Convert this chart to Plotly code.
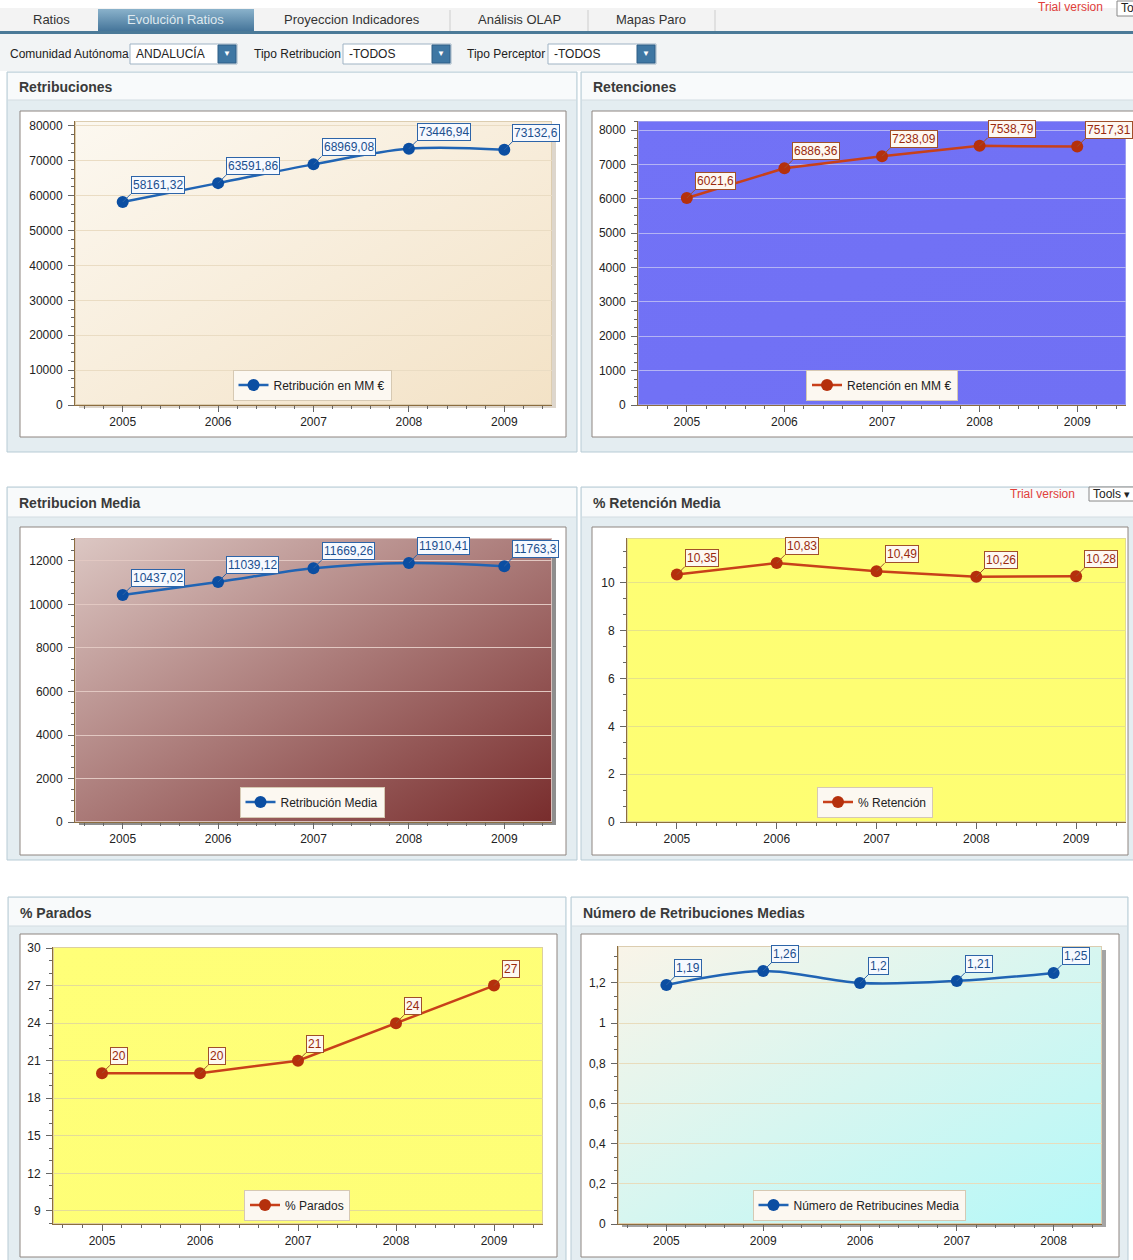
import base64
import plotly.graph_objects as go

W, H = 1133, 1260
F = "Liberation Sans, Arial, sans-serif"

# ---------------- data ----------------
years = ["2005", "2006", "2007", "2008", "2009"]
years_num = ["2005", "2009", "2006", "2007", "2008"]

retribuciones = [58161.32, 63591.86, 68969.08, 73446.94, 73132.6]
retenciones = [6021.6, 6886.36, 7238.09, 7538.79, 7517.31]
retribucion_media = [10437.02, 11039.12, 11669.26, 11910.41, 11763.3]
pct_retencion = [10.35, 10.83, 10.49, 10.26, 10.28]
pct_parados = [20, 20, 21, 24, 27]
num_retribuciones = [1.19, 1.26, 1.2, 1.21, 1.25]

tabs = ["Ratios", "Evolución Ratios", "Proyeccion Indicadores", "Análisis OLAP", "Mapas Paro"]
filter_labels = ["Comunidad Autónoma", "Tipo Retribucion", "Tipo Perceptor"]
filter_values = ["ANDALUCÍA", "-TODOS", "-TODOS"]


def px(x):
    return x / W


def py(y):
    return 1 - y / H


def svg_uri(w, h, c0, c1, border):
    # diagonal gradient fill with a 1px frame, drawn at the plot area's own pixel size
    svg = (f'<svg xmlns="http://www.w3.org/2000/svg" width="{w}" height="{h}" viewBox="0 0 {w} {h}" '
           'preserveAspectRatio="none"><defs><linearGradient id="g" x1="0" y1="0" x2="1" y2="1">'
           f'<stop offset="0" stop-color="{c0}"/><stop offset="1" stop-color="{c1}"/></linearGradient></defs>'
           f'<rect width="{w}" height="{h}" fill="url(#g)"/>'
           f'<rect x="0.5" y="0.5" width="{w - 1}" height="{h - 1}" fill="none" stroke="{border}" stroke-width="1"/>'
           '</svg>')
    return "data:image/svg+xml;base64," + base64.b64encode(svg.encode()).decode()


def vgrad_uri(c0, c1):
    svg = ('<svg xmlns="http://www.w3.org/2000/svg" width="100" height="100" viewBox="0 0 100 100" '
           'preserveAspectRatio="none"><defs><linearGradient id="g" x1="0" y1="0" x2="0" y2="1">'
           f'<stop offset="0" stop-color="{c0}"/><stop offset="1" stop-color="{c1}"/></linearGradient></defs>'
           '<rect width="100" height="100" fill="url(#g)"/></svg>')
    return "data:image/svg+xml;base64," + base64.b64encode(svg.encode()).decode()


def fmt(v):
    return str(v).replace(".", ",")


BLUE = dict(line="#2064b4", marker="#0b4ea2", text="#1b4f8f", border="#2d64a8", bg="#f6f9fe")
RED = dict(line="#c8401a", marker="#b5300c", text="#9a2a0e", border="#a0502a", bg="#fdf8f1")

charts = [
    dict(title="Retribuciones", name="Retribución en MM €", cats=years, vals=retribuciones,
         style=BLUE, shape="spline", plot=(75, 121, 552, 405), yr=[0, 81400], dtick=10000,
         minor=2500, tf="d", bg=("#fcf8f0", "#f3e2c6"), frame="#dccdb0", grid="#eadcc3",
         legend=(312, 385), panel=(7, 72, 577, 452), head=100, inner=(20, 111, 566, 437),
         shadow="#ddd6cc"),
    dict(title="Retenciones", name="Retención en MM €", cats=years, vals=retenciones,
         style=RED, shape="linear", plot=(638, 121, 1126, 405), yr=[0, 8262], dtick=1000,
         minor=250, tf="d", bg=("#7272f6", "#7070f4"), frame="#9c9cf0", grid="#b4b4f4",
         legend=(882, 385), panel=(581, 72, 1140, 452), head=100, inner=(592, 111, 1140, 437),
         shadow=None),
    dict(title="Retribucion Media", name="Retribución Media", cats=years, vals=retribucion_media,
         style=BLUE, shape="spline", plot=(75, 538, 552, 822), yr=[0, 13057], dtick=2000,
         minor=500, tf="d", bg=("#dcc7c3", "#782c2c"), frame="#d8c0bc", grid="#e2c8c2",
         legend=(312, 802), panel=(7, 487, 577, 860), head=517, inner=(20, 527, 566, 855),
         shadow="#8e8e8e"),
    dict(title="% Retención Media", name="% Retención", cats=years, vals=pct_retencion,
         style=RED, shape="linear", plot=(627, 538, 1126, 822), yr=[0, 11.88], dtick=2,
         minor=2 / 3, tf="d", bg=("#fefe74", "#fefe72"), frame="#e2dc90", grid="#e6e28a",
         legend=(875, 802), panel=(581, 487, 1140, 860), head=517, inner=(592, 527, 1128, 855),
         shadow=None),
    dict(title="% Parados", name="% Parados", cats=years, vals=pct_parados,
         style=RED, shape="linear", plot=(53, 947, 543, 1224), yr=[7.96, 30.08], dtick=3,
         minor=1, tf="d", bg=("#ffff78", "#fefe76"), frame="#dccfa0", grid="#e4dc98",
         legend=(297, 1205), panel=(8, 897, 566, 1262), head=926, inner=(20, 934, 557, 1257),
         shadow=None),
    dict(title="Número de Retribuciones Medias", name="Número de Retribucines Media", cats=years_num,
         vals=num_retribuciones, style=BLUE, shape="spline", plot=(618, 946, 1102, 1224),
         yr=[0, 1.384], dtick=0.2, minor=0.2 / 3, tf=".1~f", bg=("#f9f4e8", "#b4f8f8"),
         frame="#dccdb0", grid="#e8dcbc", legend=(859, 1205), panel=(571, 897, 1128, 1262),
         head=926, inner=(581, 934, 1119, 1257), shadow="#a4a4a4"),
]

fig = go.Figure()
shapes, annotations, images = [], [], []
layout = {}


def rect(x0, y0, x1, y1, fill, line=None, lw=1, layer="below"):
    shapes.append(dict(type="rect", xref="paper", yref="paper", x0=px(x0), x1=px(x1),
                       y0=py(y1), y1=py(y0), fillcolor=fill, layer=layer,
                       line=dict(color=line or fill, width=lw if line else 0)))


def hline(x0, x1, y, color, w=1, layer="below"):
    shapes.append(dict(type="line", xref="paper", yref="paper", x0=px(x0), x1=px(x1),
                       y0=py(y), y1=py(y), line=dict(color=color, width=w), layer=layer))


def vline(x, y0, y1, color, w=1):
    shapes.append(dict(type="line", xref="paper", yref="paper", x0=px(x), x1=px(x),
                       y0=py(y0), y1=py(y1), line=dict(color=color, width=w), layer="below"))


def text(x, y, s, size=12, color="#222", anchor="left", bold=False):
    annotations.append(dict(x=px(x), y=py(y), xref="paper", yref="paper", text=f"<b>{s}</b>" if bold else s,
                            showarrow=False, xanchor=anchor, yanchor="middle",
                            font=dict(family=F, size=size, color=color)))


# ---------------- tab strip ----------------
rect(0, 8, W, 31, "#f3f3f3")
images.append(dict(source=vgrad_uri("#8ab2cb", "#45759a"), xref="paper", yref="paper",
                   x=px(98), y=py(9), sizex=px(254) - px(98), sizey=py(9) - py(31),
                   sizing="stretch", xanchor="left", yanchor="top", layer="above"))
for sx in (450, 588, 715):
    vline(sx, 10, 31, "#cdcdcd")
rect(0, 31, W, 34, "#4b7a98")
tab_centers = [51, 176, 352, 519, 651]
for t, cx in zip(tabs, tab_centers):
    text(cx, 20, t, size=13, color="#dfe9ef" if t == "Evolución Ratios" else "#333", anchor="center")
text(1070, 7, "Trial version", size=12, color="#e0403a", anchor="center")
rect(1117, 1, 1140, 16, "white", "#888")
text(1119, 8, "Tools", size=12)

# ---------------- filter bar ----------------
rect(0, 34, W, 71, "#f2f4f5")
filter_pos = [(8, 130, 237), (252, 343, 451), (465, 548, 656)]
for lab, val, (lx, b0, b1) in zip(filter_labels, filter_values, filter_pos):
    text(lx, 54, lab, size=12, color="#222")
    rect(b0, 44, b1, 64, "white", "#9fb3c4")
    text(b0 + 4, 54, val, size=12, color="#222")
    rect(b1 - 19, 45, b1 - 1, 63, "#3f77a3", "#2f5f86")
    text(b1 - 10, 54, "▼", size=8, color="white", anchor="center")

# ---------------- panels and charts ----------------
for k, c in enumerate(charts, start=1):
    x0, y0, x1, y1 = c["panel"]
    rect(x0, y0, x1, y1, "#e4edf1", "#b7cbd5")
    rect(x0 + 1, y0 + 1, x1 - 1, c["head"], "#f8fafb")
    hline(x0 + 1, x1 - 1, c["head"], "#d3dde2")
    ix0, iy0, ix1, iy1 = c["inner"]
    rect(ix0, iy0, ix1, iy1, "white", "#8e8580")
    l, t, r, b = c["plot"]
    if c["shadow"]:
        rect(l + 4, t + 4, r + 4, b + 3, c["shadow"])
    text(x0 + 10, (y0 + c["head"]) / 2 + 1, c["title"], size=14, color="#3a3a3a", bold=True)

    xa, ya = f"x{k}" if k > 1 else "x", f"y{k}" if k > 1 else "y"
    xkey, ykey = ("xaxis" if k == 1 else f"xaxis{k}"), ("yaxis" if k == 1 else f"yaxis{k}")
    layout[xkey] = dict(domain=[px(l), px(r)], anchor=ya, range=[-0.5, 4.5],
                        tickmode="array", tickvals=list(range(5)), ticktext=c["cats"],
                        ticks="outside", ticklen=6, tickcolor="#666", showline=True,
                        linecolor="#8c6d3f", linewidth=1, showgrid=False, zeroline=False,
                        tickfont=dict(family=F, size=12, color="#222"), fixedrange=True,
                        automargin=False,
                        minor=dict(tickmode="linear", tick0=0, dtick=0.2, ticks="outside",
                                   ticklen=3, tickcolor="#666", showgrid=False))
    layout[ykey] = dict(domain=[py(b), py(t)], anchor=xa, range=c["yr"], tickmode="linear",
                        tick0=0, dtick=c["dtick"], tickformat=c["tf"], ticks="outside",
                        ticklen=6, tickcolor="#666", showline=True, linecolor="#8c6d3f",
                        linewidth=1, showgrid=True, gridcolor=c["grid"], gridwidth=1,
                        zeroline=False, tickfont=dict(family=F, size=12, color="#222"),
                        fixedrange=True, automargin=False, ticklabelstandoff=3,
                        minor=dict(tickmode="linear", tick0=0, dtick=c["minor"], ticks="outside",
                                   ticklen=3, tickcolor="#666", showgrid=False))
    images.append(dict(source=svg_uri(r - l, b - t, c["bg"][0], c["bg"][1], c["frame"]),
                       xref=xa, yref=ya, x=-0.5, y=c["yr"][1], sizex=5,
                       sizey=c["yr"][1] - c["yr"][0], sizing="stretch", xanchor="left",
                       yanchor="top", layer="below"))

    st = c["style"]
    lg = "legend" if k == 1 else f"legend{k}"
    fig.add_trace(go.Scatter(
        x=list(range(5)), y=c["vals"], xaxis=xa, yaxis=ya, name=c["name"], legend=lg,
        mode="lines+markers", line=dict(color=st["line"], width=2.5, shape=c["shape"], smoothing=1.0),
        marker=dict(size=12, color=st["marker"]), hoverinfo="skip"))
    lx, ly = c["legend"]
    layout[lg] = dict(x=px(lx), y=py(ly), xanchor="center", yanchor="middle", xref="paper",
                      yref="paper", bgcolor="#fcf8f1", bordercolor="#d6c9b3", borderwidth=1,
                      font=dict(family=F, size=12, color="#222"), itemwidth=30)
    for i, v in enumerate(c["vals"]):
        annotations.append(dict(
            x=i, y=v, xref=xa, yref=ya, text=fmt(v), showarrow=True, ax=8, ay=-8,
            xanchor="left", yanchor="bottom", arrowhead=0, arrowwidth=1,
            arrowcolor=st["border"], bgcolor=st["bg"], bordercolor=st["border"],
            borderwidth=1, borderpad=1, font=dict(family=F, size=12, color=st["text"])))

# header extras of the "% Retención Media" panel
text(1042, 494, "Trial version", size=12, color="#e0403a", anchor="center")
rect(1089, 487, 1140, 501, "white", "#888")
text(1091, 494, "Tools", size=12)
text(1127, 494, "▾", size=11, anchor="center")

fig.update_layout(
    width=W, height=H, margin=dict(l=0, r=0, t=0, b=0, pad=0, autoexpand=False), autosize=False,
    paper_bgcolor="white", plot_bgcolor="rgba(0,0,0,0)", showlegend=True,
    separators=",.", shapes=shapes, annotations=annotations, images=images,
    font=dict(family=F, size=12, color="#222"), **layout)

fig.write_html("out.html", config={"displayModeBar": False})
